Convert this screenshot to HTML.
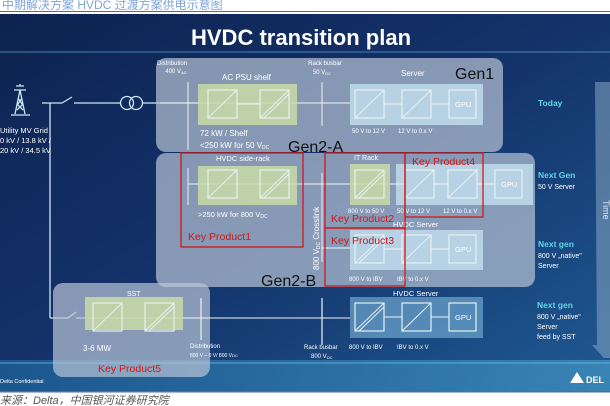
<!DOCTYPE html>
<html><head><meta charset="utf-8"><style>
html,body{margin:0;padding:0;background:#fff;}
svg{display:block;font-family:"Liberation Sans","Noto Sans CJK SC",sans-serif;}
</style></head><body>
<svg width="610" height="406" viewBox="0 0 610 406" xmlns="http://www.w3.org/2000/svg">
<defs>
<linearGradient id="bg" x1="0" y1="0" x2="1" y2="1">
<stop offset="0" stop-color="#0d2350"/><stop offset="0.5" stop-color="#14336b"/><stop offset="1" stop-color="#1f5a92"/>
</linearGradient>
<linearGradient id="band" x1="0" y1="0" x2="1" y2="0">
<stop offset="0" stop-color="#1d5f95"/><stop offset="1" stop-color="#3f8fbd"/>
</linearGradient>
<g id="conv"><rect x="0" y="0" width="29" height="28" fill="none" stroke="#e8f0f0" stroke-width="1.2"/><line x1="0" y1="28" x2="29" y2="0" stroke="#e8f0f0" stroke-width="1"/></g>
<g id="conv2"><rect x="0" y="0" width="29" height="28" fill="none" stroke="#e8f0f0" stroke-width="1.2"/><line x1="0" y1="28" x2="29" y2="0" stroke="#e8f0f0" stroke-width="1"/><line x1="4" y1="28" x2="29" y2="4" stroke="#e8f0f0" stroke-width="1"/></g>
</defs>
<rect x="0" y="0" width="610" height="406" fill="#fff"/>
<text x="2" y="9" font-size="12" fill="#7fa4d8">中期解决方案 HVDC 过渡方案供电示意图</text>
<rect x="0" y="11" width="610" height="1" fill="#4a6fb0"/>
<rect x="0" y="14" width="610" height="377" fill="url(#bg)"/>
<rect x="0" y="360" width="610" height="31" fill="url(#band)" opacity="0.8"/>
<line x1="0" y1="363" x2="610" y2="363" stroke="#6fc0e0" stroke-width="0.8"/>
<line x1="0" y1="52" x2="610" y2="52" stroke="#5aa0d0" stroke-width="0.8"/>
<rect x="0" y="391" width="610" height="1.5" fill="#4a6fb0"/>
<text x="191" y="45" font-size="22" font-weight="bold" fill="#fff">HVDC transition plan</text>

<!-- time arrow -->
<polygon points="595,82 610,82 610,358 604,358 592,345 597,345" fill="#8fb0c8" opacity="0.5"/>
<text x="603" y="200" font-size="9" fill="#e0e8f0" transform="rotate(90 603 200)">Time</text>

<!-- left grid -->
<g stroke="#cfe6f5" stroke-width="1.3" fill="none">
<path d="M16,86 L24,86 M14,90 L26,90 M20,84 L20,86 M15,114 L20,90 L25,114 M17,104 L23,110 M23,104 L17,110 M18,98 L22,104 M22,98 L18,104 M11,115 L30,115"/>
<line x1="42" y1="103" x2="62" y2="103"/>
<line x1="50" y1="103" x2="50" y2="318"/>
<line x1="62" y1="103" x2="72" y2="97"/>
<line x1="74" y1="103" x2="121" y2="103"/>
<circle cx="127" cy="103" r="6.5"/><circle cx="136" cy="103" r="6.5"/>
<line x1="143" y1="103" x2="200" y2="103"/>
<line x1="50" y1="318" x2="68" y2="318"/>
<line x1="68" y1="318" x2="76" y2="312"/>
<line x1="76" y1="318" x2="90" y2="318"/>
</g>
<text x="0" y="133" font-size="7.5" fill="#fff">Utility MV Grid</text>
<text x="0" y="143" font-size="7.5" fill="#fff">0 kV / 13.8 kV /</text>
<text x="0" y="153" font-size="7.5" fill="#fff">20 kV / 34.5 kV</text>

<!-- Gen boxes -->
<rect x="156" y="58" width="347" height="94" rx="10" fill="#b8c4d6" opacity="0.7"/>
<rect x="156" y="153" width="379" height="134" rx="10" fill="#b8c4d6" opacity="0.7"/>
<rect x="53" y="283" width="157" height="94" rx="10" fill="#b8c4d6" opacity="0.7"/>

<!-- Gen1 content -->
<line x1="160" y1="103" x2="350" y2="103" stroke="#eef4f8" stroke-width="1"/>
<line x1="188" y1="82" x2="188" y2="150" stroke="#eef4f8" stroke-width="1"/>
<line x1="322" y1="82" x2="322" y2="126" stroke="#eef4f8" stroke-width="1"/>
<rect x="198" y="84" width="99" height="41" fill="#c8dba6" opacity="0.85"/>
<use href="#conv" x="208" y="90"/><use href="#conv2" x="260" y="90"/>
<line x1="237" y1="104" x2="260" y2="104" stroke="#eef4f8"/>
<rect x="350" y="84" width="133" height="41" fill="#c0dceb" opacity="0.85"/>
<use href="#conv" x="355" y="90"/><use href="#conv" x="402" y="90"/>
<rect x="449" y="90" width="27" height="28" fill="none" stroke="#e8f0f0" stroke-width="1.2"/>
<text x="455" y="107" font-size="7.5" fill="#fff">GPU</text>
<line x1="384" y1="104" x2="402" y2="104" stroke="#eef4f8"/><line x1="431" y1="104" x2="449" y2="104" stroke="#eef4f8"/>
<text x="172" y="65" font-size="6" fill="#fff" text-anchor="middle">Distribution</text>
<text x="176" y="73" font-size="6" fill="#fff" text-anchor="middle">400 V<tspan font-size="4" dy="1">AC</tspan></text>
<text x="222" y="80" font-size="8" fill="#fff">AC PSU shelf</text>
<text x="325" y="65" font-size="6" fill="#fff" text-anchor="middle">Rack busbar</text>
<text x="322" y="74" font-size="6" fill="#fff" text-anchor="middle">50 V<tspan font-size="4" dy="1">DC</tspan></text>
<text x="401" y="76" font-size="8" fill="#fff">Server</text>
<text x="455" y="79" font-size="16" fill="#111">Gen1</text>
<text x="200" y="136" font-size="8" fill="#fff">72 kW / Shelf</text>
<text x="200" y="148" font-size="8" fill="#fff">&lt;250 kW for 50 V<tspan font-size="5" dy="1">DC</tspan></text>
<text x="352" y="133" font-size="6" fill="#fff">50 V to 12 V</text>
<text x="398" y="133" font-size="6" fill="#fff">12 V to 0.x V</text>
<text x="288" y="152" font-size="16" fill="#111">Gen2-A</text>

<!-- Gen2 content -->
<line x1="188" y1="168" x2="188" y2="205" stroke="#eef4f8"/>
<line x1="188" y1="184" x2="400" y2="184" stroke="#eef4f8"/>
<line x1="322" y1="173" x2="322" y2="262" stroke="#eef4f8"/>
<line x1="322" y1="248" x2="352" y2="248" stroke="#eef4f8"/>
<rect x="198" y="166" width="99" height="39" fill="#c8dba6" opacity="0.85"/>
<use href="#conv" x="208" y="170"/><use href="#conv2" x="260" y="170"/>
<text x="216" y="161" font-size="7.5" fill="#fff">HVDC side-rack</text>
<text x="198" y="217" font-size="7.5" fill="#fff">&gt;250 kW for 800 V<tspan font-size="5" dy="1">DC</tspan></text>
<rect x="350" y="164" width="40" height="41" fill="#c8dba6" opacity="0.85"/>
<use href="#conv2" x="355" y="170"/>
<text x="354" y="160" font-size="7" fill="#fff">IT Rack</text>
<rect x="396" y="164" width="137" height="41" fill="#c0dceb" opacity="0.85"/>
<use href="#conv" x="405" y="170"/><use href="#conv" x="448" y="170"/>
<rect x="495" y="170" width="27" height="28" fill="none" stroke="#e8f0f0" stroke-width="1.2"/>
<text x="501" y="187" font-size="7.5" fill="#fff">GPU</text>
<line x1="390" y1="184" x2="405" y2="184" stroke="#eef4f8"/><line x1="434" y1="184" x2="448" y2="184" stroke="#eef4f8"/><line x1="477" y1="184" x2="495" y2="184" stroke="#eef4f8"/>
<text x="348" y="213" font-size="6" fill="#fff">800 V to 50 V</text>
<text x="397" y="213" font-size="6" fill="#fff">50 V to 12 V</text>
<text x="443" y="213" font-size="6" fill="#fff">12 V to 0.x V</text>
<text x="319" y="270" font-size="8" fill="#fff" transform="rotate(-90 319 270)">800 V<tspan font-size="5" dy="1">DC</tspan><tspan dy="-1"> Crosslink</tspan></text>
<text x="393" y="227" font-size="7.5" fill="#fff">HVDC Server</text>
<rect x="350" y="230" width="133" height="40" fill="#c0dceb" opacity="0.85"/>
<use href="#conv2" x="355" y="235"/><use href="#conv" x="402" y="235"/>
<rect x="449" y="235" width="27" height="28" fill="none" stroke="#e8f0f0" stroke-width="1.2"/>
<text x="455" y="252" font-size="7.5" fill="#fff">GPU</text>
<line x1="384" y1="249" x2="402" y2="249" stroke="#eef4f8"/><line x1="431" y1="249" x2="449" y2="249" stroke="#eef4f8"/>
<text x="349" y="281" font-size="6" fill="#fff">800 V to IBV</text>
<text x="397" y="281" font-size="6" fill="#fff">IBV to 0.x V</text>
<text x="261" y="286" font-size="16" fill="#111">Gen2-B</text>

<!-- SST row -->
<line x1="90" y1="318" x2="350" y2="318" stroke="#eef4f8"/>
<line x1="201" y1="298" x2="201" y2="340" stroke="#eef4f8" stroke-width="1.2"/>
<line x1="322" y1="298" x2="322" y2="345" stroke="#eef4f8" stroke-width="1.2"/>
<rect x="85" y="297" width="98" height="33" fill="#c8dba6" opacity="0.85"/>
<use href="#conv" x="93" y="303"/><use href="#conv2" x="145" y="303"/>
<text x="127" y="296" font-size="7" fill="#fff">SST</text>
<text x="83" y="351" font-size="8" fill="#fff">3-6 MW</text>
<text x="190" y="348" font-size="6" fill="#fff">Distribution</text>
<text x="190" y="357" font-size="5" fill="#fff">800 V – 0 V/ 800 V<tspan font-size="4">DC</tspan></text>
<text x="393" y="296" font-size="7.5" fill="#fff">HVDC Server</text>
<rect x="350" y="297" width="133" height="41" fill="#7cb8dc" opacity="0.6"/>
<use href="#conv2" x="355" y="303"/><use href="#conv" x="402" y="303"/>
<rect x="449" y="303" width="27" height="28" fill="none" stroke="#e8f0f0" stroke-width="1.2"/>
<text x="455" y="320" font-size="7.5" fill="#fff">GPU</text>
<line x1="384" y1="317" x2="402" y2="317" stroke="#eef4f8"/><line x1="431" y1="317" x2="449" y2="317" stroke="#eef4f8"/>
<text x="304" y="349" font-size="6" fill="#fff">Rack busbar</text>
<text x="311" y="358" font-size="6" fill="#fff">800 V<tspan font-size="4" dy="1">DC</tspan></text>
<text x="349" y="349" font-size="6" fill="#fff">800 V to IBV</text>
<text x="397" y="349" font-size="6" fill="#fff">IBV to 0.x V</text>

<!-- right labels -->
<text x="538" y="106" font-size="8.5" font-weight="bold" fill="#5fd6e6">Today</text>
<text x="538" y="178" font-size="8.5" font-weight="bold" fill="#5fd6e6">Next Gen</text>
<text x="538" y="189" font-size="7" fill="#fff">50 V Server</text>
<text x="538" y="247" font-size="8.5" font-weight="bold" fill="#5fd6e6">Next gen</text>
<text x="538" y="258" font-size="7" fill="#fff">800 V „native"</text>
<text x="538" y="268" font-size="7" fill="#fff">Server</text>
<text x="537" y="308" font-size="8.5" font-weight="bold" fill="#5fd6e6">Next gen</text>
<text x="537" y="319" font-size="7" fill="#fff">800 V „native"</text>
<text x="537" y="329" font-size="7" fill="#fff">Server</text>
<text x="537" y="339" font-size="7" fill="#fff">feed by SST</text>

<!-- red boxes -->
<g fill="none" stroke="#d01818" stroke-width="1.3">
<rect x="181" y="153" width="122" height="94"/>
<rect x="325" y="153" width="80" height="75"/>
<rect x="405" y="153" width="78" height="64"/>
<rect x="325" y="228" width="80" height="58"/>
</g>
<g fill="#d01818" font-size="10.5">
<text x="188" y="240">Key Product1</text>
<text x="331" y="222">Key Product2</text>
<text x="331" y="244">Key Product3</text>
<text x="412" y="165">Key Product4</text>
<text x="98" y="372">Key Product5</text>
</g>

<text x="0" y="383" font-size="5.5" fill="#fff">Delta Confidential</text>
<polygon points="570,383 577,372 584,383" fill="#fff"/>
<text x="586" y="383" font-size="9" font-weight="bold" fill="#fff">DEL</text>
<text x="0" y="404" font-size="11" font-style="italic" fill="#555">来源：Delta，中国银河证券研究院</text>
</svg>
</body></html>
